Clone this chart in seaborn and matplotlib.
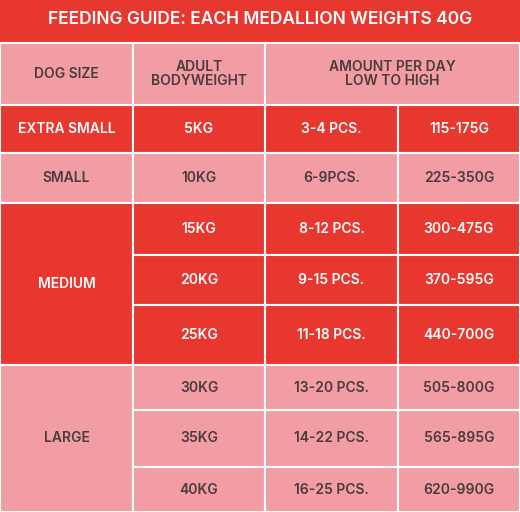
import matplotlib
matplotlib.use("Agg")
import matplotlib.pyplot as plt
from matplotlib.patches import Rectangle
import seaborn as sns

sns.set_theme(style="white")
plt.rcParams['font.family'] = ['Inter', 'DejaVu Sans']

# table content
title = "FEEDING GUIDE: EACH MEDALLION WEIGHTS 40G"
headers = ["DOG SIZE", "ADULT\nBODYWEIGHT", "AMOUNT PER DAY\nLOW TO HIGH"]
sizes = ["EXTRA SMALL", "SMALL", "MEDIUM", "LARGE"]
size_rows = [1, 1, 3, 3]
weights = ["5KG", "10KG", "15KG", "20KG", "25KG", "30KG", "35KG", "40KG"]
pieces = ["3-4 PCS.", "6-9PCS.", "8-12 PCS.", "9-15 PCS.", "11-18 PCS.",
          "13-20 PCS.", "14-22 PCS.", "16-25 PCS."]
grams = ["115-175G", "225-350G", "300-475G", "370-595G", "440-700G",
         "505-800G", "565-895G", "620-990G"]

# layout in pixels
col_edges = [0, 133, 265, 398, 520]
row_edges = [105, 153, 203, 255, 305, 365, 410, 467, 512]
RED = "#E8372F"
PINK = "#F29CA3"
DARK = "#4A3B3D"

fig = plt.figure(figsize=(5.2, 5.12), dpi=100)
ax = fig.add_axes([0, 0, 1, 1])
ax.set_xlim(0, 520)
ax.set_ylim(512, 0)
ax.axis("off")

def cell(x0, x1, y0, y1, color, text, fc, size=10):
    ax.add_patch(Rectangle((x0, y0), x1 - x0, y1 - y0, facecolor=color,
                           edgecolor="white", linewidth=1.5))
    ax.text((x0 + x1) / 2, (y0 + y1) / 2, text, ha="center", va="center",
            color=fc, fontsize=size, fontweight="semibold", linespacing=1.0)

# title bar
ax.add_patch(Rectangle((0, 0), 520, 43, facecolor=RED, edgecolor="none"))
ax.text(260, 19, title, ha="center", va="center", color="white",
        fontsize=12.5, fontweight="semibold")

# header row
cell(0, 133, 43, 105, PINK, headers[0], DARK)
cell(133, 265, 43, 105, PINK, headers[1], DARK)
cell(265, 520, 43, 105, PINK, headers[2], DARK)

# size groups
r = 0
for i, (s, n) in enumerate(zip(sizes, size_rows)):
    color = RED if i % 2 == 0 else PINK
    fc = "white" if color == RED else DARK
    cell(0, 133, row_edges[r], row_edges[r + n], color, s, fc)
    for k in range(r, r + n):
        cell(133, 265, row_edges[k], row_edges[k + 1], color, weights[k], fc)
        cell(265, 398, row_edges[k], row_edges[k + 1], color, pieces[k], fc)
        cell(398, 520, row_edges[k], row_edges[k + 1], color, grams[k], fc)
    r += n

fig.savefig("out.png", dpi=100)
